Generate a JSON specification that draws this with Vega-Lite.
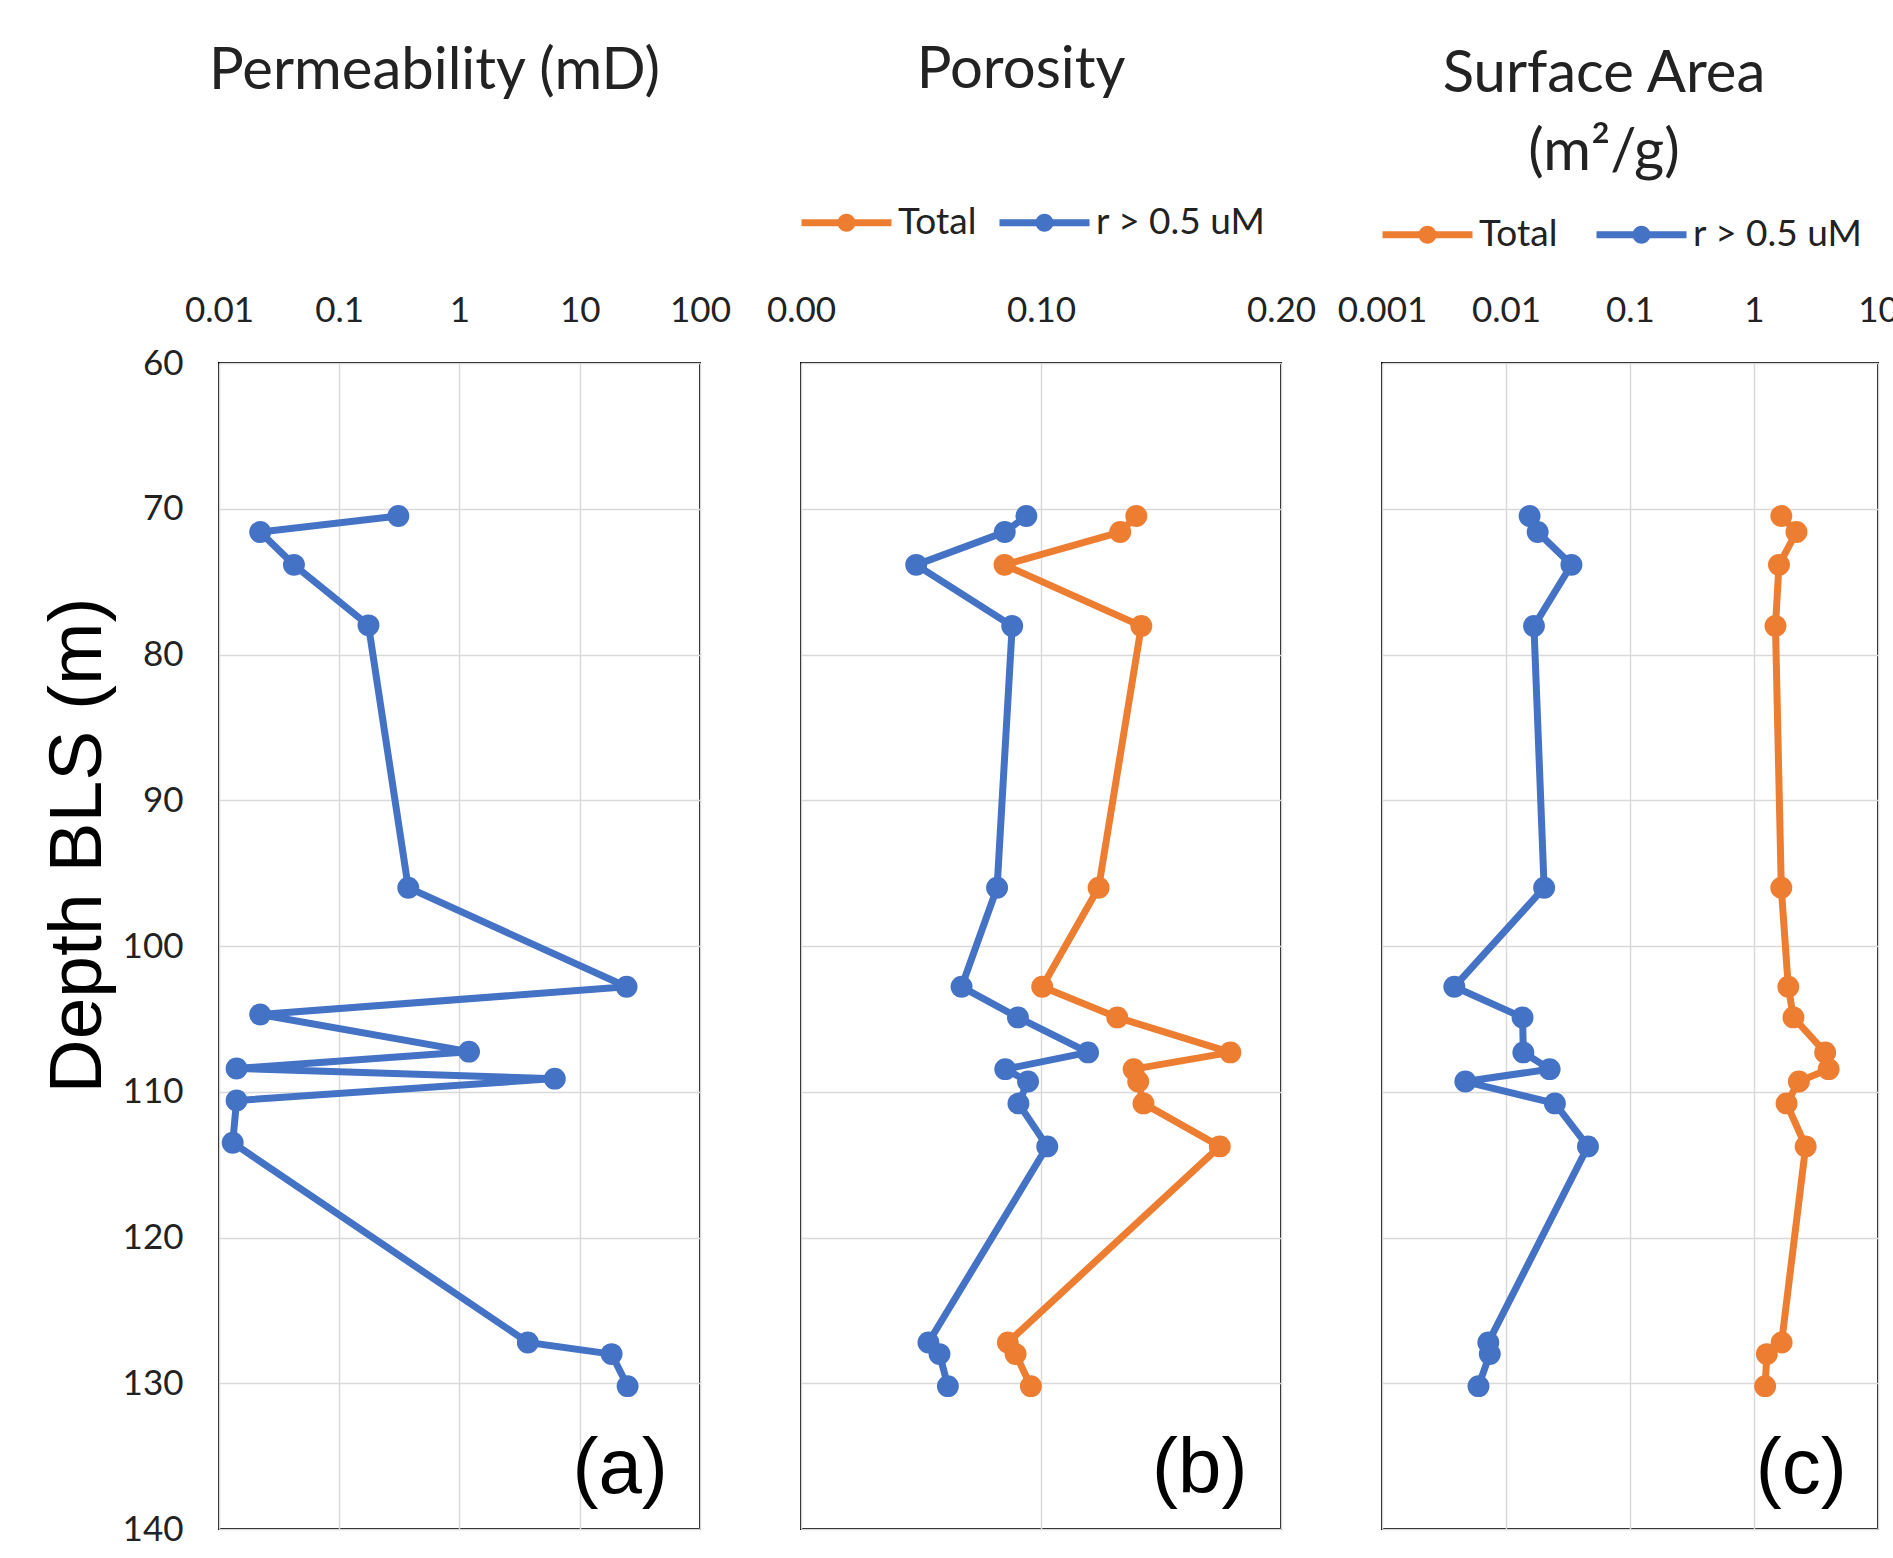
{
  "$schema": "https://vega.github.io/schema/vega-lite/v6.json",
  "autosize": {"type": "none"},
  "padding": {"left": 219, "top": 363, "right": 1674, "bottom": 1195},
  "background": "white",
  "spacing": 101,
  "bounds": "flush",
  "config": {
    "font": "Lato",
    "view": {"stroke": "#000000", "strokeWidth": 2},
    "concat": {"spacing": 101},
    "axis": {
      "gridColor": "#d9d9d9", "gridWidth": 1.5, "gridOpacity": 1,
      "labelFont": "Lato", "labelFontSize": 35, "labelColor": "#222222",
      "ticks": false, "tickSize": 0, "domain": false,
      "labelFlush": false, "labelOverlap": false, "labelBound": false
    },
    "title": {"font": "Lato", "fontSize": 58, "fontWeight": "normal", "color": "#222222", "anchor": "middle", "baseline": "alphabetic"},
    "legend": {"labelFont": "Lato", "labelFontSize": 37, "labelColor": "#222222", "labelLimit": 400}
  },
  "datasets": {
    "perm": [
      {"depth": 70.5, "value": 0.31},
      {"depth": 71.6, "value": 0.022},
      {"depth": 73.85, "value": 0.042},
      {"depth": 78.0, "value": 0.175},
      {"depth": 96.0, "value": 0.375},
      {"depth": 102.8, "value": 24.5},
      {"depth": 104.7, "value": 0.022},
      {"depth": 107.25, "value": 1.2},
      {"depth": 108.4, "value": 0.014},
      {"depth": 109.1, "value": 6.2},
      {"depth": 110.6, "value": 0.014},
      {"depth": 113.5, "value": 0.013},
      {"depth": 127.2, "value": 3.7},
      {"depth": 128.0, "value": 18.4},
      {"depth": 130.2, "value": 25.0}
    ],
    "por": [
      {"depth": 70.5, "series": "Total", "value": 0.1397},
      {"depth": 71.6, "series": "Total", "value": 0.1330},
      {"depth": 73.85, "series": "Total", "value": 0.0848},
      {"depth": 78.05, "series": "Total", "value": 0.1418},
      {"depth": 96.0, "series": "Total", "value": 0.1240},
      {"depth": 102.8, "series": "Total", "value": 0.1005},
      {"depth": 104.9, "series": "Total", "value": 0.1318},
      {"depth": 107.3, "series": "Total", "value": 0.1789},
      {"depth": 108.45, "series": "Total", "value": 0.1386},
      {"depth": 109.3, "series": "Total", "value": 0.1405},
      {"depth": 110.8, "series": "Total", "value": 0.1427},
      {"depth": 113.75, "series": "Total", "value": 0.1745},
      {"depth": 127.2, "series": "Total", "value": 0.0862},
      {"depth": 128.0, "series": "Total", "value": 0.0894},
      {"depth": 130.2, "series": "Total", "value": 0.0958},
      {"depth": 70.5, "series": "r > 0.5 uM", "value": 0.0939},
      {"depth": 71.6, "series": "r > 0.5 uM", "value": 0.0849},
      {"depth": 73.85, "series": "r > 0.5 uM", "value": 0.0480},
      {"depth": 78.05, "series": "r > 0.5 uM", "value": 0.0880},
      {"depth": 96.0, "series": "r > 0.5 uM", "value": 0.0817},
      {"depth": 102.8, "series": "r > 0.5 uM", "value": 0.0669},
      {"depth": 104.9, "series": "r > 0.5 uM", "value": 0.0904},
      {"depth": 107.3, "series": "r > 0.5 uM", "value": 0.1196},
      {"depth": 108.45, "series": "r > 0.5 uM", "value": 0.0851},
      {"depth": 109.3, "series": "r > 0.5 uM", "value": 0.0946},
      {"depth": 110.8, "series": "r > 0.5 uM", "value": 0.0906},
      {"depth": 113.75, "series": "r > 0.5 uM", "value": 0.1026},
      {"depth": 127.2, "series": "r > 0.5 uM", "value": 0.0531},
      {"depth": 128.0, "series": "r > 0.5 uM", "value": 0.0577},
      {"depth": 130.2, "series": "r > 0.5 uM", "value": 0.0612}
    ],
    "sa": [
      {"depth": 70.5, "series": "Total", "value": 1.66},
      {"depth": 71.6, "series": "Total", "value": 2.2},
      {"depth": 73.85, "series": "Total", "value": 1.59},
      {"depth": 78.05, "series": "Total", "value": 1.49},
      {"depth": 96.0, "series": "Total", "value": 1.66},
      {"depth": 102.8, "series": "Total", "value": 1.89},
      {"depth": 104.9, "series": "Total", "value": 2.08},
      {"depth": 107.3, "series": "Total", "value": 3.75},
      {"depth": 108.45, "series": "Total", "value": 4.0},
      {"depth": 109.3, "series": "Total", "value": 2.3},
      {"depth": 110.8, "series": "Total", "value": 1.83},
      {"depth": 113.75, "series": "Total", "value": 2.61},
      {"depth": 127.2, "series": "Total", "value": 1.67},
      {"depth": 128.0, "series": "Total", "value": 1.27},
      {"depth": 130.2, "series": "Total", "value": 1.23},
      {"depth": 70.5, "series": "r > 0.5 uM", "value": 0.0155},
      {"depth": 71.6, "series": "r > 0.5 uM", "value": 0.018},
      {"depth": 73.85, "series": "r > 0.5 uM", "value": 0.0337},
      {"depth": 78.05, "series": "r > 0.5 uM", "value": 0.0168},
      {"depth": 96.0, "series": "r > 0.5 uM", "value": 0.0203},
      {"depth": 102.8, "series": "r > 0.5 uM", "value": 0.00383},
      {"depth": 104.9, "series": "r > 0.5 uM", "value": 0.0136},
      {"depth": 107.3, "series": "r > 0.5 uM", "value": 0.0138},
      {"depth": 108.45, "series": "r > 0.5 uM", "value": 0.0225},
      {"depth": 109.3, "series": "r > 0.5 uM", "value": 0.0047},
      {"depth": 110.8, "series": "r > 0.5 uM", "value": 0.0248},
      {"depth": 113.75, "series": "r > 0.5 uM", "value": 0.0458},
      {"depth": 127.2, "series": "r > 0.5 uM", "value": 0.0072},
      {"depth": 128.0, "series": "r > 0.5 uM", "value": 0.0074},
      {"depth": 130.2, "series": "r > 0.5 uM", "value": 0.0060}
    ]
  },
  "hconcat": [
    {
      "width": 481, "height": 1166,
      "title": {"text": "Permeability (mD)", "offset": 192, "dx": -25},
      "layer": [
        {
          "data": {"name": "perm"},
          "mark": {"type": "line", "color": "#4472C4", "strokeWidth": 7},
          "encoding": {
            "x": {"field": "value", "type": "quantitative",
                  "scale": {"type": "log", "domain": [0.01, 100], "nice": false},
                  "axis": {"orient": "top", "values": [0.01, 0.1, 1, 10, 100], "format": "~g", "title": null, "labelPadding": 35, "grid": true}},
            "y": {"field": "depth", "type": "quantitative",
                  "scale": {"domain": [60, 140], "reverse": true, "nice": false, "zero": false},
                  "axis": {"values": [60, 70, 80, 90, 100, 110, 120, 130, 140], "title": "Depth BLS (m)",
                           "titleFont": "Liberation Sans", "titleFontSize": 75, "titleFontWeight": "normal", "titleColor": "#000000",
                           "titlePadding": 6, "titleY": 482, "labelPadding": 36, "grid": true}},
            "order": {"field": "depth", "type": "quantitative"}
          }
        },
        {
          "data": {"name": "perm"},
          "mark": {"type": "point", "filled": true, "size": 480, "color": "#4472C4", "opacity": 1},
          "encoding": {
            "x": {"field": "value", "type": "quantitative"},
            "y": {"field": "depth", "type": "quantitative"}
          }
        },
        {
          "data": {"values": [{"label": "(a)"}]},
          "mark": {"type": "text", "font": "Liberation Sans", "fontSize": 78, "align": "right", "baseline": "alphabetic", "color": "#000000"},
          "encoding": {
            "x": {"datum": 54, "type": "quantitative"},
            "y": {"datum": 137.5, "type": "quantitative"},
            "text": {"field": "label"}
          }
        }
      ]
    },
    {
      "width": 480, "height": 1166,
      "title": {"text": "Porosity", "offset": 104, "dx": -20},
      "layer": [
        {
          "data": {"name": "por"},
          "mark": {"type": "line", "strokeWidth": 7},
          "encoding": {
            "x": {"field": "value", "type": "quantitative",
                  "scale": {"domain": [0, 0.2], "nice": false},
                  "axis": {"orient": "top", "values": [0, 0.1, 0.2], "format": ".2f", "title": null, "labelPadding": 35, "grid": true}},
            "y": {"field": "depth", "type": "quantitative",
                  "scale": {"domain": [60, 140], "reverse": true, "nice": false, "zero": false},
                  "axis": {"values": [60, 70, 80, 90, 100, 110, 120, 130, 140], "title": null, "labels": false, "grid": true}},
            "stroke": {"field": "series", "type": "nominal",
                       "scale": {"domain": ["r > 0.5 uM", "Total"], "range": ["#4472C4", "#ED7D31"]}, "legend": null},
            "order": {"field": "depth", "type": "quantitative"}
          }
        },
        {
          "data": {"name": "por"},
          "mark": {"type": "point", "filled": true, "size": 480, "opacity": 1},
          "encoding": {
            "x": {"field": "value", "type": "quantitative"},
            "y": {"field": "depth", "type": "quantitative"},
            "color": {"field": "series", "type": "nominal",
                      "scale": {"domain": ["Total", "r > 0.5 uM"], "range": ["#ED7D31", "#4472C4"]},
                      "legend": {"orient": "top", "direction": "horizontal", "title": null,
                                 "symbolType": "M-1,-0.2L4,-0.2L4,0.2L-1,0.2Z M2,0A0.5,0.5,0,1,1,1,0A0.5,0.5,0,1,1,2,0Z",
                                 "symbolSize": 1296, "symbolStrokeWidth": 0, "symbolOpacity": 1, "labelLimit": 400,
                                 "labelOffset": 60, "columnPadding": 22, "offset": 52}}
          }
        },
        {
          "data": {"values": [{"label": "(b)"}]},
          "mark": {"type": "text", "font": "Liberation Sans", "fontSize": 78, "align": "right", "baseline": "alphabetic", "color": "#000000"},
          "encoding": {
            "x": {"datum": 0.186, "type": "quantitative"},
            "y": {"datum": 137.5, "type": "quantitative"},
            "text": {"field": "label"}
          }
        }
      ]
    },
    {
      "width": 496, "height": 1166,
      "title": {"text": ["Surface Area", "(m²/g)"], "offset": 34, "dx": -26, "lineHeight": 78},
      "layer": [
        {
          "data": {"name": "sa"},
          "mark": {"type": "line", "strokeWidth": 7},
          "encoding": {
            "x": {"field": "value", "type": "quantitative",
                  "scale": {"type": "log", "domain": [0.001, 10], "nice": false},
                  "axis": {"orient": "top", "values": [0.001, 0.01, 0.1, 1, 10], "format": "~g", "title": null, "labelPadding": 35, "grid": true}},
            "y": {"field": "depth", "type": "quantitative",
                  "scale": {"domain": [60, 140], "reverse": true, "nice": false, "zero": false},
                  "axis": {"values": [60, 70, 80, 90, 100, 110, 120, 130, 140], "title": null, "labels": false, "grid": true}},
            "stroke": {"field": "series", "type": "nominal",
                       "scale": {"domain": ["r > 0.5 uM", "Total"], "range": ["#4472C4", "#ED7D31"]}, "legend": null},
            "order": {"field": "depth", "type": "quantitative"}
          }
        },
        {
          "data": {"name": "sa"},
          "mark": {"type": "point", "filled": true, "size": 480, "opacity": 1},
          "encoding": {
            "x": {"field": "value", "type": "quantitative"},
            "y": {"field": "depth", "type": "quantitative"},
            "color": {"field": "series", "type": "nominal",
                      "scale": {"domain": ["Total", "r > 0.5 uM"], "range": ["#ED7D31", "#4472C4"]},
                      "legend": {"orient": "top", "direction": "horizontal", "title": null,
                                 "symbolType": "M-1,-0.2L4,-0.2L4,0.2L-1,0.2Z M2,0A0.5,0.5,0,1,1,1,0A0.5,0.5,0,1,1,2,0Z",
                                 "symbolSize": 1296, "symbolStrokeWidth": 0, "symbolOpacity": 1, "labelLimit": 400,
                                 "labelOffset": 60, "columnPadding": 38, "offset": 40}}
          }
        },
        {
          "data": {"values": [{"label": "(c)"}]},
          "mark": {"type": "text", "font": "Liberation Sans", "fontSize": 78, "align": "right", "baseline": "alphabetic", "color": "#000000"},
          "encoding": {
            "x": {"datum": 5.6, "type": "quantitative"},
            "y": {"datum": 137.5, "type": "quantitative"},
            "text": {"field": "label"}
          }
        }
      ]
    }
  ],
  "resolve": {
    "scale": {"color": "independent", "stroke": "independent"},
    "legend": {"color": "independent"}
  }
}
